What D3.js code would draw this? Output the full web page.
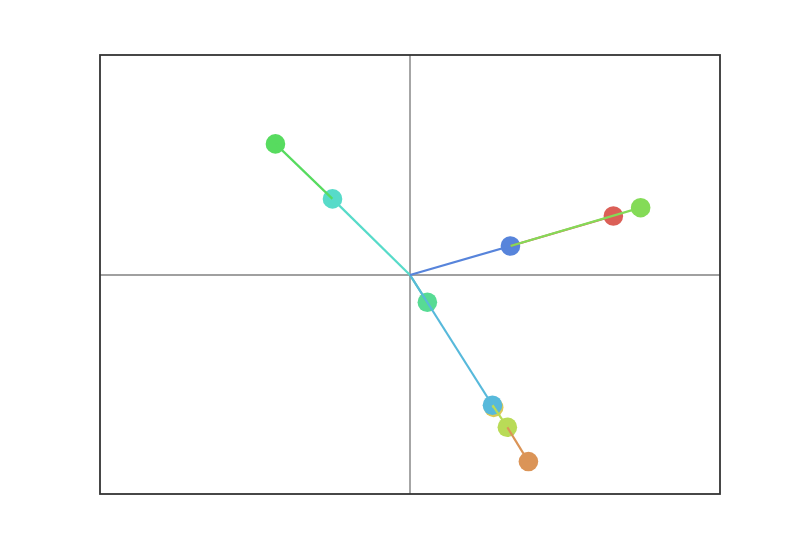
<!DOCTYPE html>
<html>
<head>
<meta charset="utf-8">
<script src="https://cdn.jsdelivr.net/npm/d3@7"></script>
<style>
  html, body { margin: 0; padding: 0; background: #ffffff; }
  svg { display: block; }
</style>
</head>
<body>
<svg id="chart" width="800" height="550"></svg>
<script>
// ---- data ----
const names   = ["a", "b", "c", "d", "e", "f", "g", "h", "i", "j"];
const xValues = [3.28, 1.91, 1.35, 1.57, 3.72, -2.17, 0.28, -1.25, 1.33, 1.62];
const yValues = [1.34, -4.24, -3.01, -3.46, 1.53, 2.98, -0.62, 1.73, -2.96, 0.66];
// index of the node each vector starts from (-1 = origin)
const parents = [9, 3, 8, 8, 9, 7, -1, -1, -1, -1];
const palette = ["#db5f57", "#db9457", "#dbc957", "#b9db57", "#84db57",
                 "#57db5f", "#57db94", "#57dbc9", "#57b9db", "#5784db"];
const xDomain = [-5, 5];
const yDomain = [-5, 5];

// ---- layout ----
const svg = d3.select("#chart");
const mLeft = 100, mRight = 720, mTop = 55, mBottom = 494;

const x = d3.scaleLinear().domain(xDomain).range([mLeft, mRight]);
const y = d3.scaleLinear().domain(yDomain).range([mBottom + 1, mTop]);

const nodes = names.map((n, i) => ({ name: n, x: xValues[i], y: yValues[i], parent: parents[i], color: palette[i] }));

// zero lines
svg.append("line")
  .attr("x1", x(0)).attr("x2", x(0))
  .attr("y1", mTop).attr("y2", mBottom)
  .attr("stroke", "#808080").attr("stroke-width", 1.4);
svg.append("line")
  .attr("x1", mLeft).attr("x2", mRight)
  .attr("y1", y(0)).attr("y2", y(0))
  .attr("stroke", "#808080").attr("stroke-width", 1.4);

// points
svg.append("g").selectAll("circle")
  .data(nodes)
  .join("circle")
  .attr("cx", d => x(d.x))
  .attr("cy", d => y(d.y))
  .attr("r", 9.8)
  .attr("fill", d => d.color);

// vectors
svg.append("g").selectAll("line")
  .data(nodes)
  .join("line")
  .attr("x1", d => d.parent < 0 ? x(0) : x(nodes[d.parent].x))
  .attr("y1", d => d.parent < 0 ? y(0) : y(nodes[d.parent].y))
  .attr("x2", d => x(d.x))
  .attr("y2", d => y(d.y))
  .attr("stroke", d => d.color)
  .attr("stroke-width", 2.2)
  .attr("stroke-linecap", "butt");

// frame
svg.append("rect")
  .attr("x", mLeft).attr("y", mTop)
  .attr("width", mRight - mLeft).attr("height", mBottom - mTop)
  .attr("fill", "none")
  .attr("stroke", "#333333")
  .attr("stroke-width", 1.8);
</script>
</body>
</html>
